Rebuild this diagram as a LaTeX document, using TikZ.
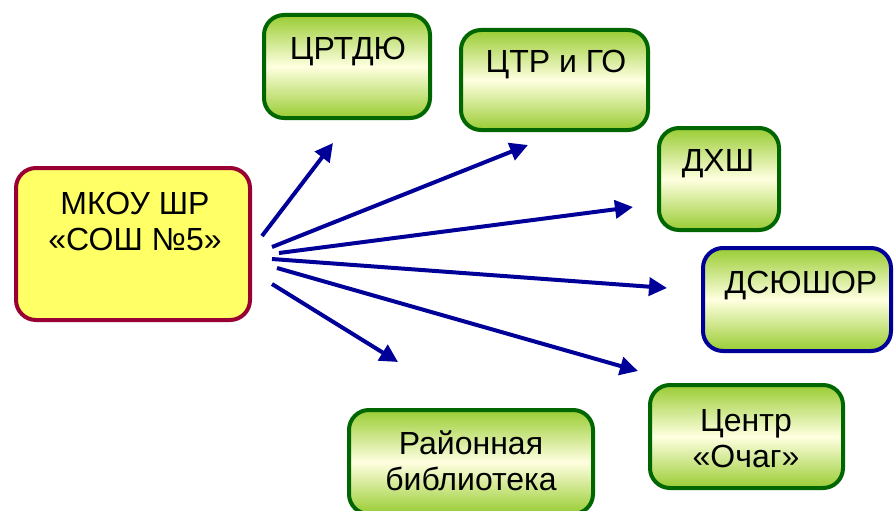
\documentclass[tikz,border=0pt]{standalone}
\usepackage{fontspec}
\setmainfont{Liberation Sans}
\usetikzlibrary{arrows.meta}
\definecolor{schoolfill}{RGB}{255,255,102}
\definecolor{schooldraw}{RGB}{153,0,51}
\definecolor{partnerdraw}{RGB}{0,102,0}
\definecolor{partnertop}{RGB}{153,204,51}
\definecolor{partnermid}{RGB}{255,255,224}
\definecolor{arrowblue}{RGB}{0,0,153}
\tikzset{
	orgbox/.style={rectangle, rounded corners=20pt, line width=4pt, inner sep=0pt},
	school/.style={orgbox, draw=schooldraw, fill=schoolfill},
	partner/.style={orgbox, draw=partnerdraw, shade, top color=partnertop,
		bottom color=partnertop, middle color=partnermid},
	sport/.style={partner, draw=arrowblue},
	orgtext/.style={anchor=base, align=center, inner sep=0pt,
		font=\fontsize{32}{36}\selectfont},
	link/.style={draw=arrowblue, line width=4pt, -{Triangle[length=18pt, width=18pt]}}
}
\begin{document}
\begin{tikzpicture}[x=1pt, y=-1pt]
	\useasboundingbox (0, 0) rectangle (895, 511);
	% Schule
	\node[school, minimum width=234pt, minimum height=152pt] (school) at (133, 244) {};
	\node[orgtext] (schooltext) at (135, 250) {МКОУ ШР\\ «СОШ №5»};
	% Partner
	\node[partner, minimum width=166pt, minimum height=103pt] (crtdyu) at (347, 66.5) {};
	\node[orgtext] (crtdyutext) at (348, 60) {ЦРТДЮ};
	\node[partner, minimum width=187pt, minimum height=100pt] (ctr) at (554.5, 80) {};
	\node[orgtext] (ctrtext) at (556, 73) {ЦТР и ГО};
	\node[partner, minimum width=120pt, minimum height=102pt] (dhsh) at (719, 179) {};
	\node[orgtext] (dhshtext) at (718, 171) {ДХШ};
	\node[sport, minimum width=188pt, minimum height=103pt] (dsyushor) at (797, 299.5) {};
	\node[orgtext] (dsyushortext) at (801, 293) {ДСЮШОР};
	\node[partner, minimum width=193pt, minimum height=103pt] (ochag) at (746.5, 436.5) {};
	\node[orgtext] (ochagtext) at (746, 467) {Центр\\«Очаг»};
	\node[partner, minimum width=244pt, minimum height=104pt] (library) at (471, 462) {};
	\node[orgtext] (librarytext) at (471, 490) {Районная\\библиотека};
	% Pfeilenden
	\coordinate (s1) at (262, 236);
	\coordinate (s2) at (272, 247);
	\coordinate (s3) at (279, 253);
	\coordinate (s4) at (272, 259);
	\coordinate (s5) at (277, 268);
	\coordinate (s6) at (272, 284);
	\coordinate (t1) at (333, 143);
	\coordinate (t2) at (528, 145);
	\coordinate (t3) at (633, 207);
	\coordinate (t4) at (667, 288);
	\coordinate (t5) at (638, 371);
	\coordinate (t6) at (398, 362);
	% Pfeile
	\foreach \i in {1,...,6}
		\draw[link] (s\i) -- (t\i);
\end{tikzpicture}
\end{document}
